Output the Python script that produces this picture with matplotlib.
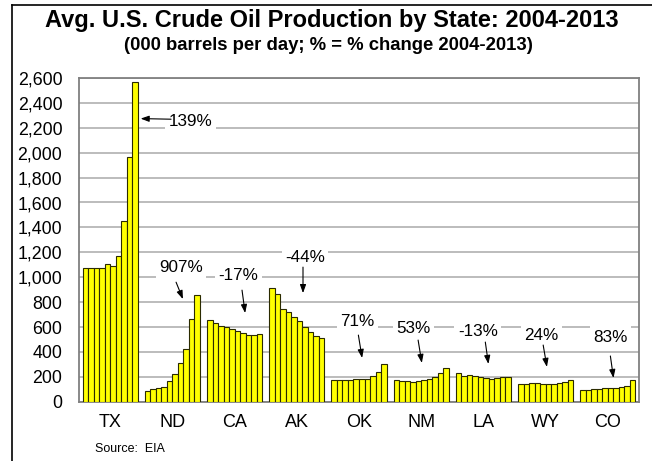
import matplotlib
matplotlib.use("Agg")
import matplotlib.pyplot as plt
from matplotlib.ticker import FuncFormatter, MultipleLocator
from matplotlib.lines import Line2D
import numpy as np

plt.rcParams['font.family'] = ['Liberation Sans', 'DejaVu Sans']

states = ["TX", "ND", "CA", "AK", "OK", "NM", "LA", "WY", "CO"]
years = list(range(2004, 2014))

tx = [1071, 1071, 1071, 1071, 1106, 1092, 1167, 1448, 1962, 2565]
nd = [83, 99, 107, 120, 169, 220, 308, 420, 661, 854]
ca = [656, 629, 608, 597, 581, 565, 549, 533, 533, 541]
ak = [910, 865, 742, 720, 680, 648, 597, 560, 525, 511]
ok = [174, 171, 174, 174, 182, 182, 182, 203, 236, 300]
nm = [171, 163, 163, 161, 166, 171, 179, 195, 228, 268]
la = [228, 209, 214, 209, 195, 187, 182, 190, 195, 195]
wy = [139, 145, 147, 147, 145, 139, 145, 147, 155, 171]
co = [91, 91, 99, 102, 110, 110, 110, 115, 126, 171]

pct_labels = ["139%", "907%", "-17%", "-44%", "71%", "53%", "-13%", "24%", "83%"]

series = [tx, nd, ca, ak, ok, nm, la, wy, co]

fig = plt.figure(figsize=(6.52, 4.61), dpi=100)
ax = fig.add_axes([79/652, 1 - 401.7/461, (639-79)/652, (401.7-78)/461])

nb = len(years)
w = 1.0 / (nb + 1.3)
for gi, vals in enumerate(series):
    xs = gi + (np.arange(nb) - (nb - 1) / 2) * w
    ax.bar(xs, vals, width=w, color="#FFFF00", edgecolor="#2a2a00", linewidth=0.8, zorder=3)

ax.set_xlim(-0.5, len(states) - 0.5)
ax.set_ylim(0, 2600)
ax.yaxis.set_major_locator(MultipleLocator(200))
ax.yaxis.set_major_formatter(FuncFormatter(lambda v, p: f"{int(v):,}"))
ax.set_xticks(range(len(states)))
ax.set_xticklabels(states)
ax.tick_params(axis='x', length=0, labelsize=13, pad=9)
ax.tick_params(axis='y', length=0, labelsize=12.8, pad=12)
ax.grid(axis='y', color="#b0b0b0", linewidth=1.2, zorder=0)
for s in ax.spines.values():
    s.set_color("#808080")
    s.set_linewidth(1.3)

# annotation layout: (text x, text y, arrow start x, y, arrow end x, y) in data units
ann_layout = [
    (1.29, 2253, 0.98, 2269, 0.49, 2274),
    (1.14, 1081, 1.06, 960, 1.17, 824),
    (2.06, 1017, 2.12, 896, 2.17, 712),
    (3.13, 1161, 3.10, 1081, 3.10, 872),
    (3.97, 647, 3.99, 535, 4.05, 351),
    (4.87, 591, 4.95, 495, 5.01, 311),
    (5.91, 567, 6.03, 479, 6.08, 303),
    (6.93, 535, 6.96, 455, 7.02, 279),
    (8.04, 519, 8.04, 367, 8.09, 190),
]
for lab, (tx_, ty_, ax0, ay0, ax1, ay1) in zip(pct_labels, ann_layout):
    ax.text(tx_, ty_, lab, ha="center", va="center", fontsize=12.3, zorder=5,
            bbox=dict(facecolor="white", edgecolor="none", pad=2.5))
    ax.annotate("", xy=(ax1, ay1), xytext=(ax0, ay0), zorder=6,
                arrowprops=dict(arrowstyle="-|>,head_length=0.5,head_width=0.18",
                                color="black", lw=0.8, shrinkA=0, shrinkB=0))

fig.text(332/652, 1 - 21/461, "Avg. U.S. Crude Oil Production by State: 2004-2013",
         ha="center", va="center", fontsize=17, fontweight="bold")
fig.text(328/652, 1 - 45/461, "(000 barrels per day; % = % change 2004-2013)",
         ha="center", va="center", fontsize=13.3, fontweight="bold")
fig.text(95/652, 1 - 449/461, "Source:  EIA", ha="left", va="center", fontsize=9)

fig.add_artist(Line2D([12/652, 12/652], [0, 1 - 5/461], transform=fig.transFigure, color="black", lw=1.2))
fig.add_artist(Line2D([12/652, 1], [1 - 5/461, 1 - 5/461], transform=fig.transFigure, color="black", lw=1.2))

fig.savefig("out.png", dpi=100)
